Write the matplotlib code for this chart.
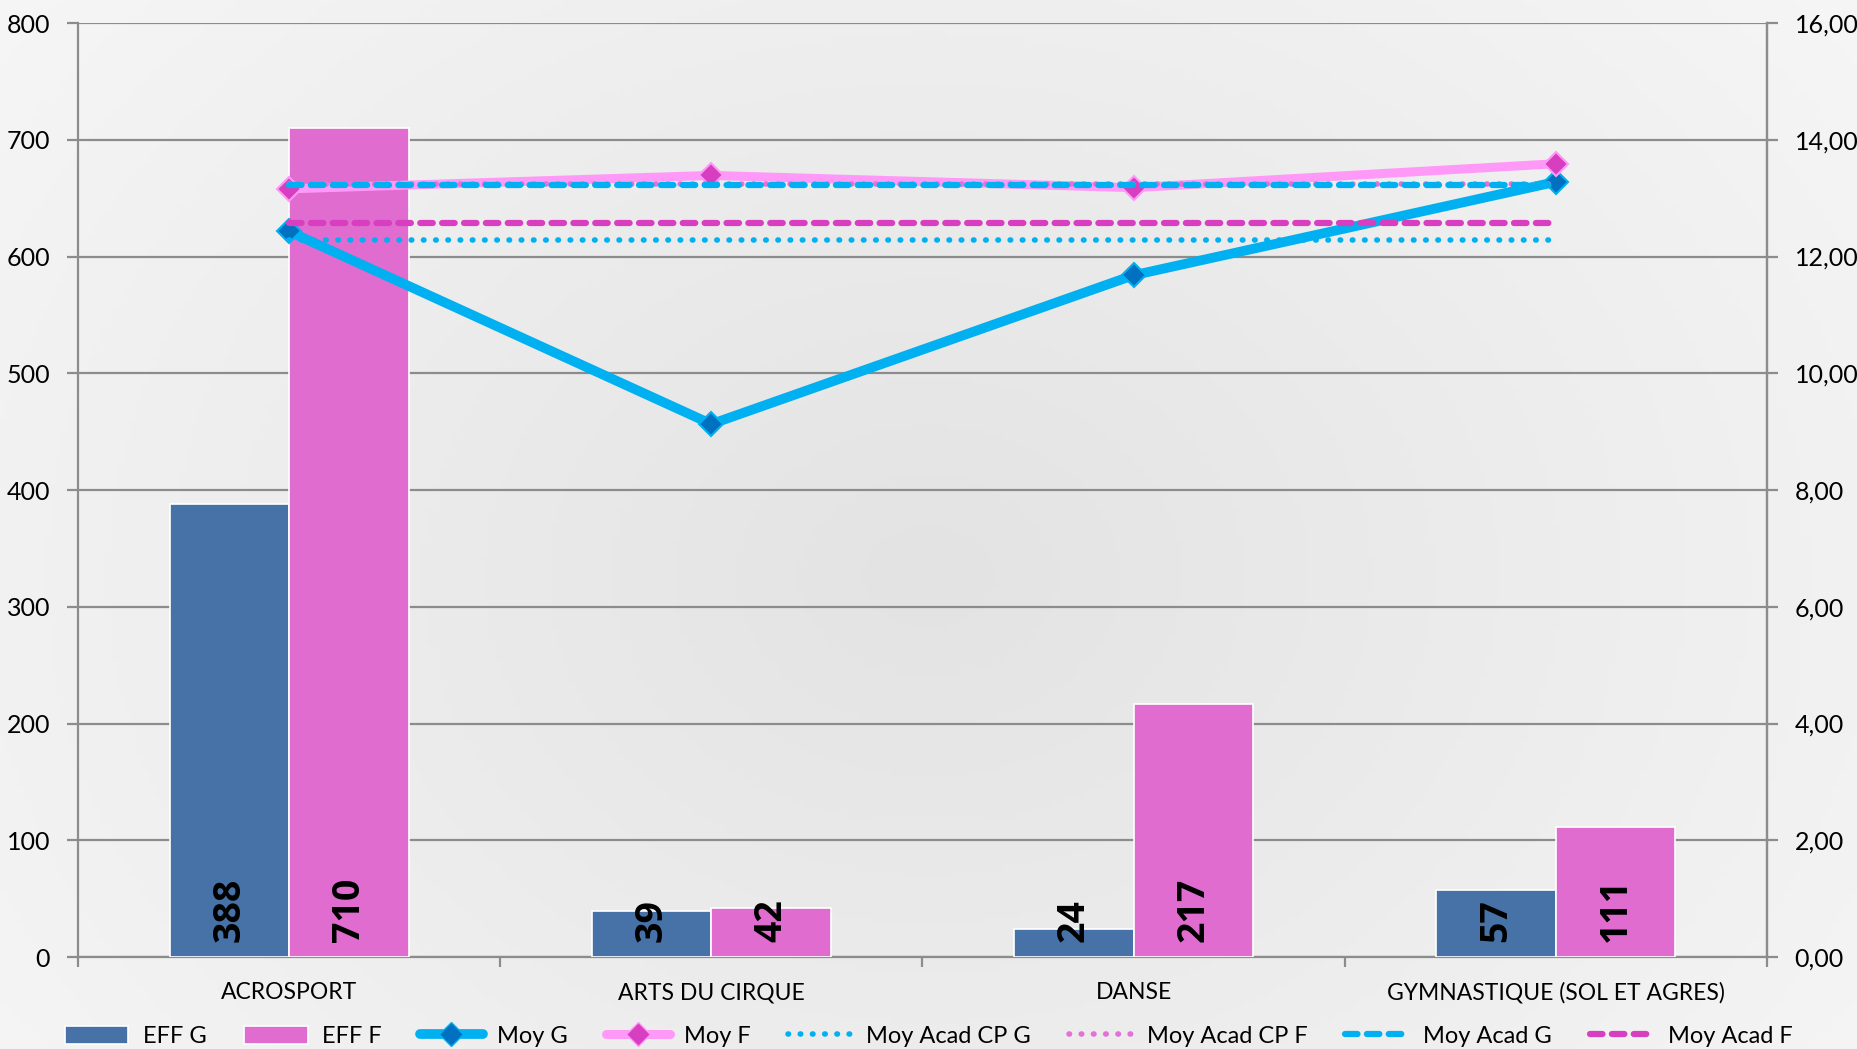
import numpy as np
import matplotlib
matplotlib.use("Agg")
import matplotlib.pyplot as plt
from matplotlib.lines import Line2D
from matplotlib.patches import Patch
from matplotlib.ticker import FuncFormatter, MultipleLocator

categories = ["ACROSPORT", "ARTS DU CIRQUE", "DANSE", "GYMNASTIQUE (SOL ET AGRES)"]
eff_g = [388, 39, 24, 57]
eff_f = [710, 42, 217, 111]
moy_g = [12.43, 9.13, 11.68, 13.28]
moy_f = [13.16, 13.39, 13.18, 13.59]
moy_acad_cp_g = [12.29, 12.29, 12.29, 12.29]
moy_acad_cp_f = [13.24, 13.24, 13.24, 13.24]
moy_acad_g = [13.22, 13.22, 13.22, 13.22]
moy_acad_f = [12.57, 12.57, 12.57, 12.57]

plt.rcParams['font.family'] = ['Lato', 'DejaVu Sans']

W, H = 1857, 1049
fig = plt.figure(figsize=(W / 100, H / 100), dpi=100)

# background gradient
bg = fig.add_axes([0, 0, 1, 1], zorder=-10)
yy, xx = np.mgrid[0:1:200j, 0:1:300j]
d = np.sqrt(((xx - 0.5) / 0.65) ** 2 + ((yy - 0.55) / 0.9) ** 2)
val = 0.89 + 0.075 * np.clip(d, 0, 1)
bg.imshow(np.dstack([val, val, val]), aspect='auto', extent=[0, 1, 0, 1])
bg.axis('off')

ax = fig.add_axes([0.042, 0.0877, 0.9095, 0.8903])
ax.set_facecolor('none')
x = np.arange(len(categories))
w = 0.283
col_g = '#4672A8'
col_f = '#E06CD0'
ax.bar(x - w / 2, eff_g, w, color=col_g, edgecolor='white', linewidth=1.2, zorder=3)
ax.bar(x + w / 2, eff_f, w, color=col_f, edgecolor='white', linewidth=1.2, zorder=3)
for xi, v in zip(x - w / 2, eff_g):
    ax.text(xi, 13, str(v), rotation=90, ha='center', va='bottom', fontsize=27,
            fontweight='bold', color='black', zorder=4, family=['Open Sans', 'DejaVu Sans'])
for xi, v in zip(x + w / 2, eff_f):
    ax.text(xi, 13, str(v), rotation=90, ha='center', va='bottom', fontsize=27,
            fontweight='bold', color='black', zorder=4, family=['Open Sans', 'DejaVu Sans'])

ax.set_xlim(-0.5, 3.5)
ax.set_ylim(0, 800)
ax.yaxis.set_major_locator(MultipleLocator(100))
ax.grid(axis='y', color='#8c8c8c', linewidth=1.6, zorder=0)
ax.set_axisbelow(True)
ax.set_xticks(x)
ax.set_xticklabels(categories, fontsize=16.5)
ax.set_xticks(np.arange(-0.5, 4, 1), minor=True)
ax.tick_params(axis='x', which='major', length=0, pad=18)
ax.tick_params(axis='x', which='minor', length=7, color='#8c8c8c', width=1.6)
ax.tick_params(axis='y', labelsize=18, length=8, color='#8c8c8c', width=1.6, pad=12)
ax.spines['top'].set_visible(False)
for s in ['left', 'right', 'bottom']:
    ax.spines[s].set_color('#8c8c8c')
    ax.spines[s].set_linewidth(1.6)

ax2 = ax.twinx()
ax2.set_ylim(0, 16)
ax2.yaxis.set_major_locator(MultipleLocator(2))
ax2.yaxis.set_major_formatter(FuncFormatter(lambda v, p: f"{v:.2f}".replace('.', ',')))
ax2.tick_params(axis='y', labelsize=18, length=8, color='#8c8c8c', width=1.6, pad=12)
for s in ['top', 'left', 'bottom']:
    ax2.spines[s].set_visible(False)
ax2.spines['right'].set_color('#8c8c8c')
ax2.spines['right'].set_linewidth(1.6)

cyan = '#00B0F0'
pink_l = '#FF99F8'
mag = '#D83EC0'
ax2.plot(x, moy_g, color=cyan, lw=7, marker='D', ms=12, mfc='#0070C0', mec=cyan, mew=1.5,
         solid_capstyle='round', zorder=5)
ax2.plot(x, moy_f, color=pink_l, lw=6.5, marker='D', ms=12, mfc=mag, mec=pink_l, mew=1.5,
         solid_capstyle='round', zorder=5)
ax2.plot(x, moy_acad_cp_g, color=cyan, lw=4, ls=(0, (0.1, 2.1)), dash_capstyle='round', zorder=6)
ax2.plot(x, moy_acad_cp_f, color='#E570D8', lw=4, ls=(0, (0.1, 2.1)), dash_capstyle='round', zorder=6)
ax2.plot(x, moy_acad_g, color=cyan, lw=4.5, ls=(0, (2.0, 1.5)), dash_capstyle='round', zorder=7)
ax2.plot(x, moy_acad_f, color=mag, lw=4.5, ls=(0, (2.0, 1.5)), dash_capstyle='round', zorder=7)

handles = [
    Patch(facecolor=col_g, edgecolor='white', linewidth=1.2),
    Patch(facecolor=col_f, edgecolor='white', linewidth=1.2),
    Line2D([], [], color=cyan, lw=7, marker='D', ms=12, mfc='#0070C0', mec=cyan, solid_capstyle='round'),
    Line2D([], [], color=pink_l, lw=6.5, marker='D', ms=12, mfc=mag, mec=pink_l, solid_capstyle='round'),
    Line2D([], [], color=cyan, lw=4, ls=(0, (0.1, 2.1)), dash_capstyle='round'),
    Line2D([], [], color='#E570D8', lw=4, ls=(0, (0.1, 2.1)), dash_capstyle='round'),
    Line2D([], [], color=cyan, lw=4.5, ls=(0, (2.0, 1.5)), dash_capstyle='round'),
    Line2D([], [], color=mag, lw=4.5, ls=(0, (2.0, 1.5)), dash_capstyle='round'),
]
labels = ["EFF G", "EFF F", "Moy G", "Moy F", "Moy Acad CP G", "Moy Acad CP F", "Moy Acad G", "Moy Acad F"]
fig.legend(handles, labels, loc='center', bbox_to_anchor=(0.5, 0.012), ncol=8, frameon=False,
           fontsize=17, handlelength=2.7, handletextpad=0.6, columnspacing=1.6, handleheight=0.8)

fig.savefig('out.png', dpi=100)
